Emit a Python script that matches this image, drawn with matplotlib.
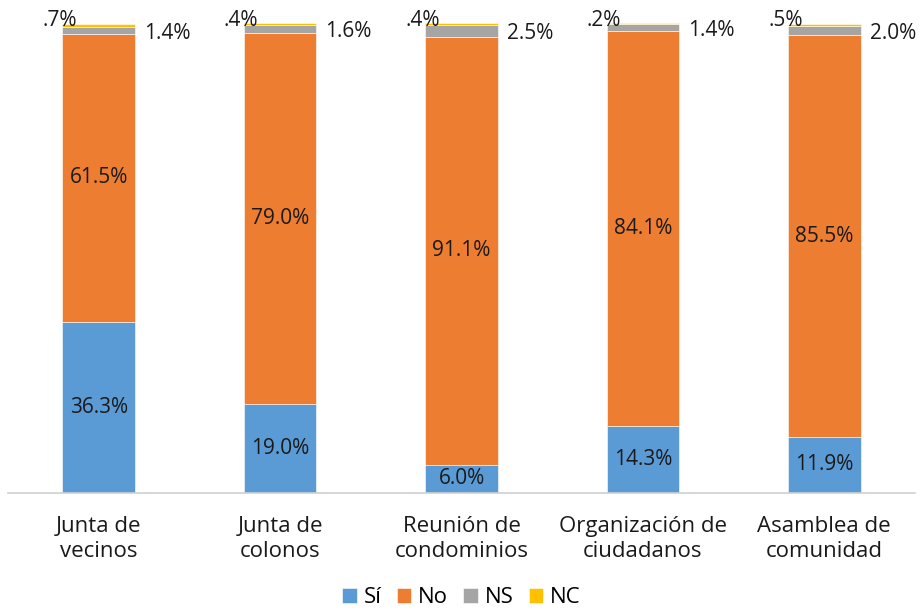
import matplotlib.pyplot as plt
import numpy as np

plt.rcParams['font.family'] = ['Open Sans', 'DejaVu Sans']

categorias = ['Junta de\nvecinos', 'Junta de\ncolonos', 'Reunión de\ncondominios',
              'Organización de\nciudadanos', 'Asamblea de\ncomunidad']
si = [36.3, 19.0, 6.0, 14.3, 11.9]
no = [61.5, 79.0, 91.1, 84.1, 85.5]
ns = [1.4, 1.6, 2.5, 1.4, 2.0]
nc = [0.7, 0.4, 0.4, 0.2, 0.5]
nc_txt = ['.7%', '.4%', '.4%', '.2%', '.5%']

C_SI = '#5B9BD5'
C_NO = '#ED7D31'
C_NS = '#A5A5A5'
C_NC = '#FFC000'
TXT = '#1a1a1a'

fig = plt.figure(figsize=(9.23, 6.10), dpi=100)
ax = fig.add_axes([0.0087, 0.192, 0.9826, 0.770])

x = np.arange(len(categorias))
w = 0.4
si_a, no_a, ns_a, nc_a = map(np.array, (si, no, ns, nc))

ax.bar(x, si_a, w, color=C_SI, label='Sí', edgecolor='white', linewidth=0.4)
ax.bar(x, no_a, w, bottom=si_a, color=C_NO, label='No', edgecolor='white', linewidth=0.4)
ax.bar(x, ns_a, w, bottom=si_a + no_a, color=C_NS, label='NS', edgecolor='white', linewidth=0.4)
ax.bar(x, nc_a, w, bottom=si_a + no_a + ns_a, color=C_NC, label='NC', edgecolor='white', linewidth=0.4)

fs = 15
for i in range(len(x)):
    ax.text(x[i], si_a[i] / 2, f'{si[i]:.1f}%', ha='center', va='center', fontsize=fs, color=TXT)
    ax.text(x[i], si_a[i] + no_a[i] / 2, f'{no[i]:.1f}%', ha='center', va='center', fontsize=fs, color=TXT)
    ax.text(x[i] + w / 2 + 0.05, si_a[i] + no_a[i] + ns_a[i] / 2 - 0.6, f'{ns[i]:.1f}%',
            ha='left', va='center', fontsize=fs, color=TXT)
    ax.text(x[i] - w / 2 + 0.08, 99.4, nc_txt[i], ha='right', va='baseline', fontsize=fs, color=TXT)

ax.set_xlim(-0.5, len(x) - 0.5)
ax.set_ylim(0, 100)
ax.set_yticks([])
ax.set_xticks(x)
ax.set_xticklabels(categorias, fontsize=16, color=TXT, linespacing=1.25)
ax.tick_params(axis='x', length=0, pad=17)
for s in ['top', 'right', 'left']:
    ax.spines[s].set_visible(False)
ax.spines['bottom'].set_color('#d0d0d0')
ax.spines['bottom'].set_linewidth(1.2)

fig.legend(loc='lower center', ncol=4, bbox_to_anchor=(0.5, -0.03), frameon=False,
           fontsize=16, handlelength=0.65, handleheight=0.65, handletextpad=0.3, columnspacing=0.7)

fig.savefig('out.png', dpi=100)
